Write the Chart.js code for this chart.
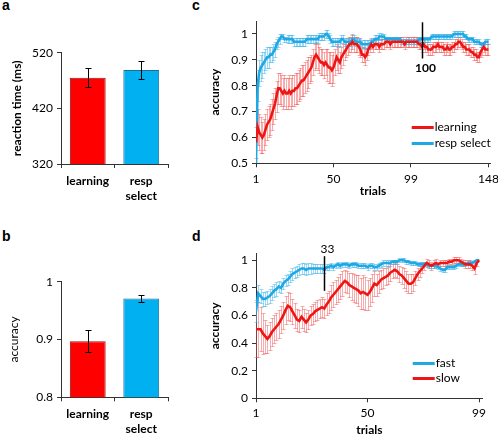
<!DOCTYPE html>
<html><head><meta charset="utf-8">
<script src="https://cdn.jsdelivr.net/npm/chart.js@4.4.1/dist/chart.umd.min.js"></script>
<style>
html,body{margin:0;padding:0;background:#fff;width:498px;height:436px;overflow:hidden;position:relative}
.pl{position:absolute;font:bold 14px "Liberation Sans",Arial,sans-serif;line-height:14px;color:#000}
canvas{position:absolute}
</style></head><body>
<div class="pl" style="left:2px;top:-2px">a</div>
<div class="pl" style="left:2px;top:229px">b</div>
<div class="pl" style="left:192px;top:-2px">c</div>
<div class="pl" style="left:192px;top:229px">d</div>
<canvas id="ca" width="175" height="175" style="left:0;top:40px"></canvas>
<canvas id="cb" width="175" height="181" style="left:0;top:255px"></canvas>
<canvas id="cc" width="328" height="210" style="left:170px;top:0"></canvas>
<canvas id="cd" width="328" height="216" style="left:170px;top:220px"></canvas>
<script>
// ---------- data ----------
const barCategories = ['learning', ['resp', 'select']];
const rtMeans = [475, 489];
const rtErr = [17, 16];
const accMeans = [0.897, 0.971];
const accErr = [0.019, 0.006];
const rtTicks = [320, 420, 520];
const accBarTicks = [0.8, 0.9, 1];

const cXTicks = [1, 50, 99, 148];
const cYTicks = [0.5, 0.6, 0.7, 0.8, 0.9, 1];
const dXTicks = [1, 50, 99];
const dYTicks = [0, 0.2, 0.4, 0.6, 0.8, 1];

const learningAcc = [
0.58,0.64,0.62,0.61,0.60,0.61,0.63,0.65,0.66,0.67,
0.69,0.71,0.73,0.76,0.79,0.79,0.78,0.77,0.78,0.77,
0.77,0.78,0.77,0.78,0.78,0.79,0.79,0.80,0.81,0.82,
0.82,0.83,0.84,0.85,0.86,0.87,0.89,0.91,0.92,0.91,
0.90,0.89,0.89,0.88,0.89,0.88,0.87,0.87,0.86,0.87,
0.89,0.91,0.90,0.89,0.91,0.92,0.93,0.94,0.95,0.96,
0.96,0.97,0.96,0.96,0.96,0.95,0.94,0.92,0.92,0.91,
0.92,0.94,0.95,0.96,0.95,0.96,0.96,0.96,0.95,0.96,
0.96,0.96,0.97,0.97,0.97,0.96,0.97,0.97,0.97,0.97,
0.97,0.97,0.97,0.97,0.96,0.97,0.97,0.97,0.97,0.97,
0.97,0.97,0.97,0.96,0.96,0.95,0.96,0.95,0.95,0.94,
0.94,0.94,0.95,0.95,0.95,0.96,0.95,0.95,0.95,0.94,
0.94,0.95,0.94,0.94,0.95,0.95,0.96,0.96,0.97,0.97,
0.96,0.95,0.95,0.94,0.94,0.94,0.93,0.93,0.92,0.92,
0.91,0.91,0.93,0.94,0.95,0.94,0.94,0.94];
const learningErr = [
0.06,0.07,0.07,0.07,0.06,0.06,0.06,0.06,0.06,0.06,
0.06,0.06,0.06,0.06,0.06,0.06,0.06,0.06,0.06,0.06,
0.06,0.06,0.06,0.06,0.06,0.06,0.06,0.06,0.06,0.06,
0.06,0.06,0.06,0.06,0.05,0.05,0.05,0.05,0.05,0.05,
0.05,0.05,0.05,0.05,0.05,0.06,0.06,0.06,0.06,0.06,
0.05,0.05,0.05,0.04,0.04,0.04,0.03,0.03,0.03,0.03,
0.03,0.03,0.03,0.03,0.03,0.03,0.03,0.03,0.03,0.03,
0.02,0.02,0.02,0.02,0.02,0.02,0.02,0.02,0.02,0.02,
0.02,0.02,0.02,0.02,0.02,0.02,0.02,0.02,0.02,0.02,
0.02,0.02,0.02,0.02,0.02,0.02,0.02,0.02,0.02,0.02,
0.02,0.02,0.02,0.02,0.02,0.02,0.02,0.02,0.02,0.02,
0.02,0.02,0.02,0.02,0.02,0.02,0.02,0.02,0.02,0.02,
0.02,0.02,0.02,0.02,0.02,0.02,0.02,0.02,0.02,0.02,
0.02,0.02,0.02,0.02,0.02,0.02,0.02,0.02,0.02,0.02,
0.02,0.02,0.02,0.02,0.02,0.02,0.02,0.02];
const respSelectAcc = [
0.50,0.80,0.85,0.87,0.88,0.89,0.90,0.91,0.91,0.92,
0.92,0.93,0.94,0.96,0.97,0.98,0.99,0.99,0.98,0.98,
0.98,0.98,0.98,0.98,0.97,0.97,0.97,0.97,0.97,0.97,
0.97,0.97,0.98,0.98,0.98,0.98,0.98,0.98,0.98,0.98,
0.99,0.99,0.99,0.99,1.00,1.00,0.99,0.98,0.97,0.97,
0.97,0.97,0.97,0.97,0.98,0.98,0.97,0.97,0.97,0.97,
0.97,0.98,0.98,0.97,0.97,0.97,0.97,0.96,0.96,0.96,
0.96,0.96,0.96,0.97,0.97,0.98,0.98,0.98,0.99,0.99,
0.99,0.99,0.98,0.98,0.98,0.98,0.98,0.98,0.98,0.98,
0.98,0.98,0.97,0.97,0.97,0.97,0.97,0.97,0.97,0.97,
0.97,0.97,0.97,0.98,0.98,0.98,0.98,0.98,0.98,0.98,
0.98,0.99,0.99,0.99,0.99,0.99,0.99,0.99,0.99,0.99,
0.99,0.99,0.99,0.99,0.99,1.00,1.00,1.00,1.00,1.00,
1.00,1.00,0.99,0.99,0.98,0.98,0.98,0.98,0.97,0.97,
0.97,0.97,0.96,0.96,0.96,0.97,0.97,0.97];
const respSelectErr = [
0.00,0.06,0.05,0.05,0.05,0.04,0.04,0.04,0.04,0.03,
0.03,0.03,0.03,0.02,0.02,0.02,0.01,0.01,0.01,0.01,
0.015,0.015,0.015,0.015,0.015,0.015,0.015,0.015,0.015,0.015,
0.015,0.015,0.015,0.015,0.015,0.015,0.015,0.015,0.015,0.015,
0.015,0.015,0.015,0.015,0.015,0.015,0.015,0.015,0.015,0.015,
0.015,0.015,0.015,0.015,0.015,0.015,0.015,0.015,0.015,0.015,
0.015,0.015,0.015,0.015,0.015,0.015,0.015,0.015,0.015,0.015,
0.015,0.015,0.015,0.015,0.015,0.015,0.015,0.015,0.015,0.015,
0.01,0.01,0.01,0.01,0.01,0.01,0.01,0.01,0.01,0.01,
0.01,0.01,0.01,0.01,0.01,0.01,0.01,0.01,0.01,0.01,
0.01,0.01,0.01,0.01,0.01,0.01,0.01,0.01,0.01,0.01,
0.01,0.01,0.01,0.01,0.01,0.01,0.01,0.01,0.01,0.01,
0.01,0.01,0.01,0.01,0.01,0.01,0.01,0.01,0.01,0.01,
0.01,0.01,0.01,0.01,0.01,0.01,0.01,0.01,0.01,0.01,
0.01,0.01,0.01,0.01,0.01,0.01,0.01,0.01];

const fastAcc = [
0.63,0.76,0.74,0.72,0.72,0.73,0.74,0.76,0.78,0.79,
0.81,0.80,0.83,0.85,0.86,0.88,0.90,0.91,0.92,0.93,
0.94,0.94,0.93,0.94,0.94,0.94,0.94,0.94,0.94,0.94,
0.93,0.95,0.95,0.96,0.95,0.96,0.97,0.96,0.97,0.97,
0.97,0.96,0.97,0.97,0.97,0.96,0.96,0.96,0.96,0.95,
0.96,0.96,0.95,0.95,0.96,0.97,0.98,0.98,0.98,0.98,
0.99,0.99,0.99,1.00,1.00,1.00,0.99,0.99,0.98,0.98,
0.98,0.97,0.97,0.97,0.97,0.97,0.96,0.96,0.96,0.96,
0.95,0.94,0.93,0.93,0.95,0.95,0.95,0.95,0.96,0.97,
0.97,0.97,0.97,0.98,0.98,0.98,0.99,1.00,1.00];
const fastErr = [
0.08,0.06,0.05,0.05,0.05,0.05,0.05,0.05,0.05,0.05,
0.04,0.04,0.04,0.04,0.04,0.04,0.04,0.04,0.04,0.04,
0.04,0.04,0.04,0.04,0.04,0.03,0.03,0.03,0.03,0.03,
0.02,0.02,0.02,0.02,0.02,0.02,0.02,0.02,0.02,0.02,
0.02,0.02,0.02,0.02,0.02,0.02,0.02,0.02,0.02,0.02,
0.02,0.02,0.02,0.02,0.02,0.02,0.02,0.02,0.02,0.02,
0.015,0.015,0.015,0.015,0.015,0.015,0.015,0.015,0.015,0.015,
0.015,0.015,0.015,0.015,0.015,0.015,0.015,0.015,0.015,0.015,
0.015,0.015,0.015,0.015,0.015,0.015,0.015,0.015,0.015,0.015,
0.015,0.015,0.015,0.015,0.015,0.015,0.015,0.01,0.0];
const slowAcc = [
0.50,0.50,0.50,0.47,0.45,0.43,0.45,0.48,0.50,0.52,
0.54,0.57,0.60,0.64,0.67,0.66,0.63,0.60,0.57,0.56,
0.59,0.57,0.55,0.57,0.60,0.61,0.63,0.64,0.65,0.66,
0.65,0.68,0.70,0.73,0.75,0.77,0.79,0.81,0.83,0.85,
0.84,0.82,0.81,0.80,0.79,0.78,0.76,0.77,0.76,0.75,
0.77,0.80,0.83,0.82,0.84,0.86,0.87,0.88,0.89,0.91,
0.92,0.93,0.92,0.90,0.89,0.87,0.85,0.83,0.83,0.84,
0.87,0.90,0.92,0.94,0.96,0.98,0.97,0.96,0.97,0.98,
0.97,0.98,0.98,0.98,0.98,0.99,0.99,1.00,1.00,1.00,
0.99,0.98,0.97,0.97,0.97,0.96,0.94,0.98,1.00];
const slowErr = [
0.20,0.20,0.16,0.15,0.12,0.10,0.10,0.10,0.10,0.10,
0.10,0.10,0.10,0.10,0.10,0.10,0.09,0.09,0.08,0.08,
0.08,0.08,0.07,0.07,0.07,0.07,0.07,0.07,0.07,0.07,
0.07,0.08,0.08,0.09,0.09,0.09,0.09,0.09,0.09,0.08,
0.08,0.09,0.10,0.10,0.10,0.11,0.11,0.12,0.12,0.11,
0.10,0.10,0.09,0.08,0.08,0.07,0.07,0.06,0.06,0.06,
0.05,0.05,0.05,0.06,0.06,0.07,0.07,0.07,0.07,0.06,
0.05,0.04,0.04,0.03,0.03,0.03,0.03,0.03,0.03,0.03,
0.02,0.02,0.02,0.02,0.02,0.02,0.02,0.02,0.02,0.02,
0.02,0.02,0.03,0.03,0.03,0.03,0.04,0.02,0.00];

const markerC = {trial: 106, from: 0.905, to: 1.045, label: '100', labelAt: 0.868};
const markerD = {trial: 31, from: 0.778, to: 1.029, label: '33', labelAt: 1.08};

// ---------- styling ----------
const FONT = "Lato, 'Open Sans', sans-serif";
Chart.defaults.font.family = FONT;
Chart.defaults.font.size = 12;
Chart.defaults.color = '#000';
const AX = '#333';
const RED = '#FF0000', RED_EDGE = '#9a1010', BLUE = '#00B0F0', BLUE_EDGE = '#1f6f93';
const RED_LINE = '#EE1515', BLUE_LINE = '#1EA8E4';
const RED_ERR = 'rgba(240,70,70,0.45)', BLUE_ERR = 'rgba(60,180,235,0.5)';

function fixBox(w, h) {
  return s => {
    if (w != null) s.width = w;
    if (h != null) s.height = h;
    s.paddingLeft = s.paddingRight = s.paddingTop = s.paddingBottom = 0;
  };
}
const numLabel = v => String(Math.round(v * 100) / 100);

function drawErr(chart, o) {
  const ctx = chart.ctx, ys = chart.scales.y;
  ctx.save();
  o.sets.forEach(s => {
    const meta = chart.getDatasetMeta(s.ds);
    const data = chart.data.datasets[s.ds].data;
    ctx.strokeStyle = s.color; ctx.lineWidth = s.lw || 1;
    meta.data.forEach((el, i) => {
      const d = data[i];
      const v = (typeof d === 'object') ? d.y : d;
      const e = s.err[i];
      if (!e) return;
      const x = Math.round(el.x) + 0.5;
      const y1 = Math.round(ys.getPixelForValue(v + e)) + 0.5;
      const y2 = Math.round(ys.getPixelForValue(v - e)) + 0.5;
      ctx.beginPath();
      ctx.moveTo(x, y1); ctx.lineTo(x, y2);
      ctx.moveTo(x - s.cap, y1); ctx.lineTo(x + s.cap, y1);
      ctx.moveTo(x - s.cap, y2); ctx.lineTo(x + s.cap, y2);
      ctx.stroke();
    });
  });
  ctx.restore();
}
const errPlugin = {
  id: 'errbars',
  beforeDatasetsDraw(chart, a, o) { if (o && o.sets && !o.after) drawErr(chart, o); },
  afterDatasetsDraw(chart, a, o) { if (o && o.sets && o.after) drawErr(chart, o); }
};
const annotPlugin = {
  id: 'annot',
  afterDraw(chart, a, o) {
    if (!o || !o.legend) return;
    const ctx = chart.ctx, xs = chart.scales.x, ys = chart.scales.y, ca = chart.chartArea;
    ctx.save();
    if (o.marker) {
      const m = o.marker;
      const x = Math.round(xs.getPixelForValue(m.trial)) + 0.5;
      ctx.strokeStyle = '#000'; ctx.lineWidth = 1.5;
      ctx.beginPath(); ctx.moveTo(x, ys.getPixelForValue(m.to)); ctx.lineTo(x, ys.getPixelForValue(m.from)); ctx.stroke();
      ctx.fillStyle = '#000'; ctx.font = (o.markerBold ? 'bold ' : '') + '12px ' + FONT;
      ctx.textAlign = 'center'; ctx.textBaseline = 'middle';
      ctx.fillText(m.label, x + 3, ys.getPixelForValue(m.labelAt));
    }
    const L = o.legend;
    ctx.font = '12px ' + FONT; ctx.textAlign = 'left'; ctx.textBaseline = 'middle';
    L.items.forEach((ds, i) => {
      const d = chart.data.datasets[ds];
      const y = Math.round(ca.top + L.y + i * L.gap) + 0.5;
      const x0 = ca.left + L.x;
      ctx.strokeStyle = d.borderColor; ctx.lineWidth = 3;
      ctx.beginPath(); ctx.moveTo(x0, y); ctx.lineTo(x0 + 22, y); ctx.stroke();
      ctx.fillStyle = '#000';
      ctx.fillText(d.label, x0 + 23, y);
    });
    ctx.restore();
  }
};

function barChart(id, means, errs, yMin, yMax, yTicks, title, bold, lay) {
  return new Chart(document.getElementById(id), {
    type: 'bar',
    data: { labels: barCategories, datasets: [{
      data: means, backgroundColor: [RED, BLUE], borderColor: [RED_EDGE, BLUE_EDGE],
      borderWidth: 1, barPercentage: 0.67, categoryPercentage: 1 }] },
    options: {
      responsive: false, animation: false, events: [], devicePixelRatio: 1,
      layout: { padding: { top: lay.top, right: lay.right, left: 0, bottom: 0 } },
      plugins: { legend: { display: false }, tooltip: { enabled: false },
        errbars: { after: true, sets: [{ ds: 0, err: errs, color: '#000', cap: 3, lw: 1 }] } },
      scales: {
        x: { type: 'category', offset: true,
          grid: { offset: true, drawOnChartArea: false, tickLength: 4, color: AX },
          border: { color: AX },
          ticks: { font: { weight: 'bold', size: 12, lineHeight: 1.25 }, padding: lay.xpad, maxRotation: 0, autoSkip: false },
          afterFit: fixBox(null, lay.xh) },
        y: { min: yMin, max: yMax,
          afterBuildTicks: s => { s.ticks = yTicks.map(v => ({ value: v })); },
          grid: { drawOnChartArea: false, tickLength: 4, color: AX },
          border: { color: AX },
          ticks: { padding: 4, callback: numLabel },
          title: { display: true, text: title, font: { weight: bold ? 'bold' : 'normal', size: 12 }, padding: { top: lay.tpad, bottom: 0 } },
          afterFit: fixBox(61, null) }
      }
    },
    plugins: [errPlugin]
  });
}

function lineChart(id, sets, xMax, xTicks, yMin, yMax, yTicks, lay, annot) {
  return new Chart(document.getElementById(id), {
    type: 'line',
    data: { datasets: sets.map(s => ({
      label: s.label, data: s.values.map((v, i) => ({ x: i + 1, y: v })),
      borderColor: s.color, borderWidth: 2.6, pointRadius: 0, tension: 0, fill: false })) },
    options: {
      responsive: false, animation: false, events: [], devicePixelRatio: 1,
      layout: { padding: { top: lay.top, right: lay.right, left: 0, bottom: 0 } },
      plugins: { legend: { display: false }, tooltip: { enabled: false },
        errbars: { after: false, sets: sets.map((s, i) => ({ ds: i, err: s.err, color: s.errColor, cap: 2, lw: 1 })) },
        annot: annot },
      scales: {
        x: { type: 'linear', min: 1, max: xMax,
          afterBuildTicks: s => { s.ticks = xTicks.map(v => ({ value: v })); },
          grid: { drawOnChartArea: false, tickLength: 4, color: AX },
          border: { color: AX },
          ticks: { padding: lay.xpad, callback: v => String(v), maxRotation: 0, autoSkip: false },
          title: { display: true, text: 'trials', font: { weight: 'bold', size: 12, lineHeight: 1 }, padding: { top: 0, bottom: lay.xtpad } },
          afterFit: fixBox(null, lay.xh) },
        y: { min: yMin, max: yMax,
          afterBuildTicks: s => { s.ticks = yTicks.map(v => ({ value: v })); },
          grid: { drawOnChartArea: false, tickLength: 4, color: AX },
          border: { color: AX },
          ticks: { padding: 4, callback: numLabel },
          title: { display: true, text: 'accuracy', font: { weight: 'bold', size: 12 }, padding: { top: 38, bottom: 0 } },
          afterFit: fixBox(86, null) }
      }
    },
    plugins: [errPlugin, annotPlugin]
  });
}

barChart('ca', rtMeans, rtErr, 320, 520, rtTicks, 'reaction time (ms)', true,
  { top: 12.7, right: 7, xh: 51, xpad: 6, tpad: 10 });
barChart('cb', accMeans, accErr, 0.8, 1, accBarTicks, 'accuracy', false,
  { top: 26.7, right: 7, xh: 38.7, xpad: 5, tpad: 7 });

lineChart('cc', [
  { label: 'learning', values: learningAcc, err: learningErr, color: RED_LINE, errColor: RED_ERR },
  { label: 'resp select', values: respSelectAcc, err: respSelectErr, color: BLUE_LINE, errColor: BLUE_ERR }
], 149, cXTicks, 0.5, 1.05, cYTicks,
  { top: 21, right: 8, xh: 46.7, xpad: 5, xtpad: 13 },
  { marker: markerC, markerBold: true, legend: { items: [0, 1], x: 155.7, y: 105.7, gap: 16.6 } });

lineChart('cd', [
  { label: 'slow', values: slowAcc, err: slowErr, color: RED_LINE, errColor: RED_ERR },
  { label: 'fast', values: fastAcc, err: fastErr, color: BLUE_LINE, errColor: BLUE_ERR }
], 100.6, dXTicks, 0, 1.05, dYTicks,
  { top: 33.3, right: 15.3, xh: 37.7, xpad: 4, xtpad: 0 },
  { marker: markerD, markerBold: false, legend: { items: [1, 0], x: 156.7, y: 110, gap: 15 } });
</script>
</body></html>
